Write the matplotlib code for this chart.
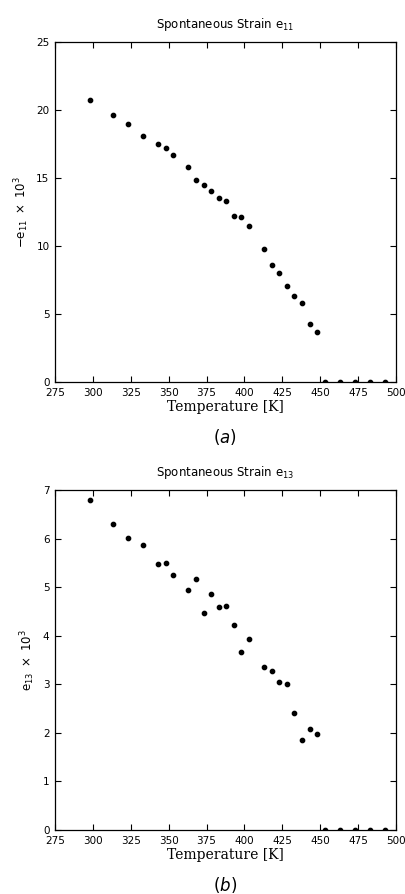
import numpy as np
import matplotlib.pyplot as plt

#-------------------------------------------------------------------------------------------------

temp_a = [298, 313, 323, 333, 343, 348, 353, 363, 368, 373, 378, 383, 388, 393, 398, 403,
          413, 418, 423, 428, 433, 438, 443, 448, 453, 463, 473, 483, 493]
e11 = [20.7, 19.66, 18.97, 18.09, 17.52, 17.21, 16.69, 15.83, 14.85, 14.46, 14.04, 13.5, 13.3,
       12.2, 12.15, 11.48, 9.78, 8.63, 7.98, 7.07, 6.29, 5.8, 4.24, 3.71, 0, 0, 0, 0, 0]

temp_b = [298, 313, 323, 333, 343, 348, 353, 363, 368, 373, 378, 383, 388, 393, 398, 403,
          413, 418, 423, 428, 433, 438, 443, 448, 453, 463, 473, 483, 493]
e13 = [6.80, 6.31, 6.01, 5.87, 5.47, 5.5, 5.25, 4.94, 5.16, 4.47, 4.86, 4.6, 4.62, 4.22, 3.67,
       3.94, 3.36, 3.28, 3.04, 3.01, 2.40, 1.86, 2.07, 1.97, 0, 0, 0, 0, 0]

xticks = [275, 300, 325, 350, 375, 400, 425, 450, 475, 500]

#-------------------------------------------------------------------------------------------------

fig = plt.figure(figsize=(4.06, 8.94), dpi=100)

def makePanel(rect, T, v, ymax, ystep, title, ylab, tag, tagY):
	ax = fig.add_axes(rect)
	ax.plot(T, v, 'o', color='k', markersize=3.1, clip_on=True)
	ax.set_xlim(275, 500)
	ax.set_ylim(0, ymax)
	ax.set_xticks(xticks)
	ax.set_yticks(np.arange(0, ymax + 0.01, ystep))
	ax.tick_params(direction='in', top=True, right=True, length=4, width=0.8,
	               labelsize=7.5, pad=4)
	for s in ax.spines.values():
		s.set_linewidth(0.9)
	ax.set_title(title, fontsize=8.5, pad=10)
	ax.set_xlabel('Temperature [K]', fontsize=10, family='DejaVu Serif', labelpad=2)
	ax.set_ylabel(ylab, fontsize=8.5, labelpad=4)
	fig.text(0.555, tagY, tag, fontsize=12, ha='center', va='center')
	return ax

#----------------------------------------------

makePanel([0.1355, 0.5727, 0.84, 0.3803], temp_a, e11, 25, 5,
          r'Spontaneous Strain $\mathregular{e_{11}}$', r'$-\mathregular{e_{11}}\ \times\ 10^3$',
          r'($\it{a}$)', 1 - 437/894.)
makePanel([0.1355, 0.0716, 0.84, 0.3803], temp_b, e13, 7, 1,
          r'Spontaneous Strain $\mathregular{e_{13}}$', r'$\mathregular{e_{13}}\ \times\ 10^3$',
          r'($\it{b}$)', 1 - 885/894.)

plt.savefig('out.png', dpi=100)
